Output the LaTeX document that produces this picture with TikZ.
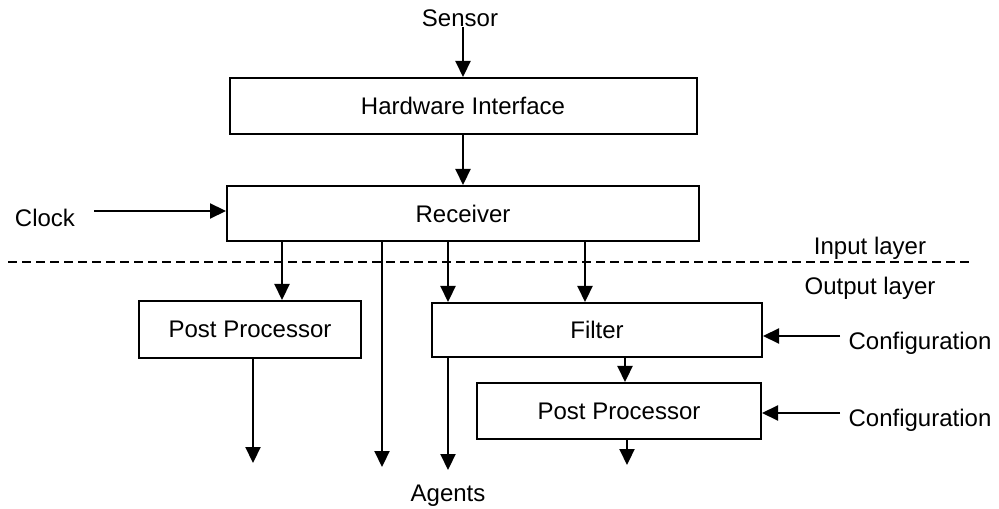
\documentclass[tikz,border=0pt]{standalone}
\usepackage{fontspec}
\setmainfont{Liberation Sans}
\usetikzlibrary{arrows.meta,positioning}

\begin{document}
\begin{tikzpicture}[x=0.5pt,y=0.5pt,
    txt/.style={inner sep=0pt,font=\fontsize{12}{14}\selectfont},
    block/.style={txt,draw,line width=1pt},
    arr/.style={line width=1.1pt,-{Triangle[width=7.5pt,length=8pt]}}]
    \useasboundingbox (0,0) rectangle (999,508);

    % input side
    \node[txt] (sensor) at (460,490) {Sensor};
    \node[block,minimum width=233.5pt,minimum height=28pt] (hw) at (463,402) {Hardware Interface};
    \node[block,minimum width=236pt,minimum height=27.5pt] (recv) at (463,294.5) {Receiver};
    \node[txt] (clock) at (45,290) {Clock};
    \coordinate (clkin) at (94,297);

    % layers
    \draw[line width=0.8pt,dash pattern=on 4.5pt off 2.5pt] (8,246) -- (970,246);
    \node[txt] (inlayer) at (870,260) {Input layer};
    \node[txt] (outlayer) at (870,220) {Output layer};

    % output side
    \node[block,minimum width=111pt,minimum height=28.5pt] (pp1) at (250,178.5) {Post Processor};
    \node[block,minimum width=165pt,minimum height=27pt] (filter) at (597,178) {Filter};
    \node[block,minimum width=142pt,minimum height=28pt] (pp2) at (619,97) {Post Processor};
    \node[txt] (cfg1) at (920,165) {Configuration};
    \node[txt] (cfg2) at (920,88) {Configuration};
    \coordinate (cfgin1) at (840,172);
    \coordinate (cfgin2) at (840,95);

    \coordinate (pp1out) at (253,45);
    \coordinate (recvout) at (382,41);
    \coordinate (agentsout) at (448,38);
    \coordinate (pp2out) at (627,43);
    \node[txt,below=7.5pt of agentsout] (agents) {Agents};

    \draw[arr] (sensor.south -| hw.north) -- (hw.north);
    \draw[arr] (hw.south) -- (recv.north);
    \draw[arr] (clkin) -- (clkin -| recv.west);
    \draw[arr] (282,0 |- recv.south) -- (282,0 |- pp1.north);
    \draw[arr] (recvout |- recv.south) -- (recvout);
    \draw[arr] (448,0 |- recv.south) -- (448,0 |- filter.north);
    \draw[arr] (585,0 |- recv.south) -- (585,0 |- filter.north);
    \draw[arr] (pp1out |- pp1.south) -- (pp1out);
    \draw[arr] (agentsout |- filter.south) -- (agentsout);
    \draw[arr] (625,0 |- filter.south) -- (625,0 |- pp2.north);
    \draw[arr] (pp2out |- pp2.south) -- (pp2out);
    \draw[arr] (cfgin1) -- (cfgin1 -| filter.east);
    \draw[arr] (cfgin2) -- (cfgin2 -| pp2.east);
\end{tikzpicture}
\end{document}
